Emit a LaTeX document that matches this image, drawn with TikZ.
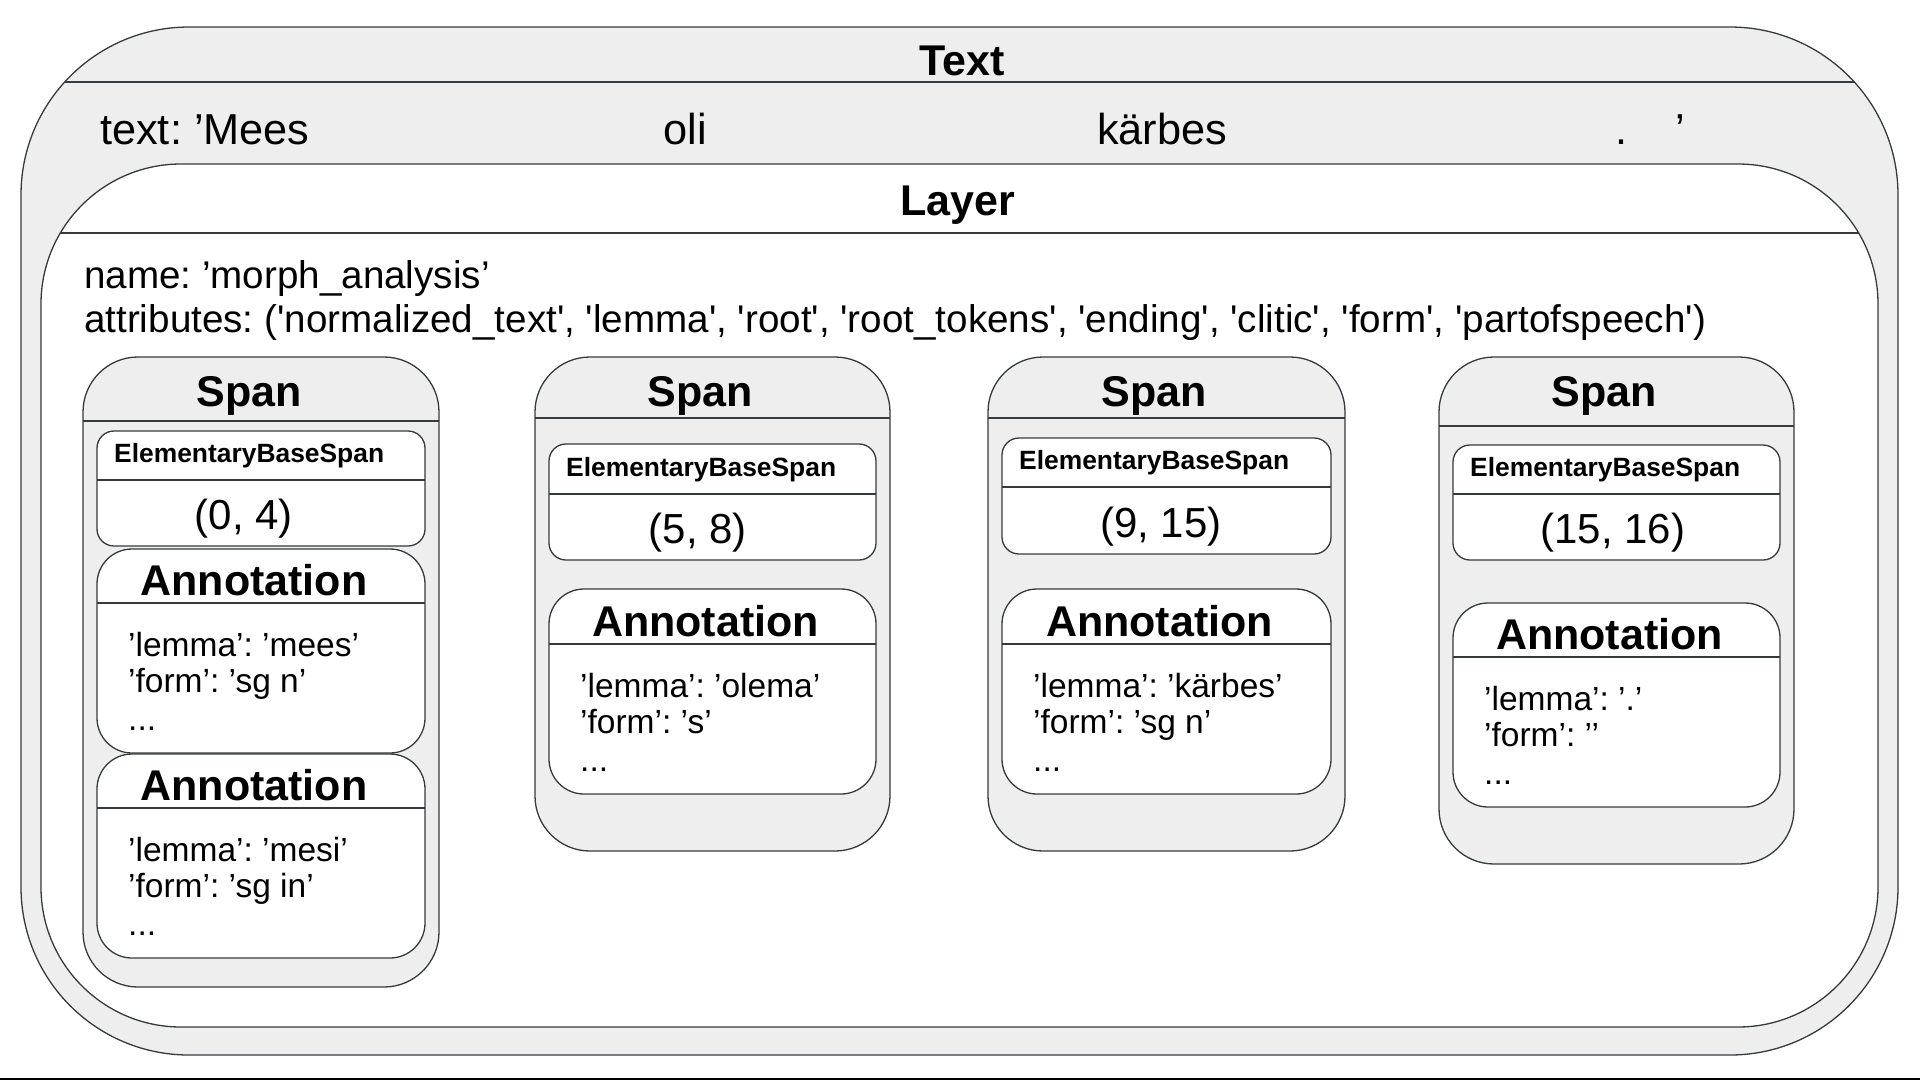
\documentclass[tikz,border=0pt]{standalone}
\usepackage{fontspec}
\setmainfont{Liberation Sans}[Ligatures=TeXOff]
\definecolor{boxgray}{HTML}{EEEEEE}
\definecolor{boxline}{HTML}{36393D}
\frenchspacing
\begin{document}
\begin{tikzpicture}[x=1pt,y=-1pt,
    frame/.style={draw=boxline,line width=1.3pt},
    title/.style={font=\fontsize{43}{50}\selectfont\bfseries,anchor=base,inner sep=0pt},
    plain/.style={font=\fontsize{42}{48}\selectfont,anchor=base,inner sep=0pt},
    word/.style={font=\fontsize{43.3}{50}\selectfont,anchor=base,inner sep=0pt},
    attr/.style={font=\fontsize{38.6}{44}\selectfont,anchor=base west,inner sep=0pt},
    small/.style={font=\fontsize{33.5}{38}\selectfont,anchor=base west,inner sep=0pt},
    ebs/.style={font=\fontsize{26.4}{30}\selectfont\bfseries,anchor=base west,inner sep=0pt}]

    \useasboundingbox (0,0) rectangle (1920,1080);

    % Text
    \draw[frame,fill=boxgray,rounded corners=168] (21,27) rectangle (1898,1055);
    \begin{scope}
        \clip[rounded corners=168] (21,27) rectangle (1898,1055);
        \draw[frame] (21,82) -- (1898,82);
    \end{scope}
    \node[title] (text-title) at (962,75) {Text};
    \node[word,anchor=base west] (text-w1) at (100,144) {text: ’Mees};
    \node[word] (text-w2) at (685,144) {oli};
    \node[word] (text-w3) at (1162,144) {kärbes};
    \node[word] (text-w4) at (1621,144) {.};
    \node[word] (text-w5) at (1680,144) {’};

    % Layer
    \draw[frame,fill=white,rounded corners=140] (41,164) rectangle (1878,1027);
    \begin{scope}
        \clip[rounded corners=140] (41,164) rectangle (1878,1027);
        \draw[frame] (41,233) -- (1878,233);
    \end{scope}
    \node[title] (layer-title) at (958,215) {Layer};
    \node[attr] (layer-name) at (84,288) {name: ’morph\_analysis’};
    \node[attr] (layer-attr) at (84,332) {attributes: ('normalized\_text', 'lemma', 'root', 'root\_tokens', 'ending', 'clitic', 'form', 'partofspeech')};

    % Spans
    \foreach \i/\xa/\xb/\yb/\yh/\ea/\ed/\eb/\vx/\val in {
        1/83/439/987/421/431/480/546/244/{(0, 4)},
        2/535/890/851/418/444/494/560/698/{(5, 8)},
        3/988/1345/851/418/438/487/554/1161/{(9, 15)},
        4/1439/1794/864/426/445/494/560/1613/{(15, 16)}} {
        \draw[frame,fill=boxgray,rounded corners=55] (\xa,357) rectangle (\xb,\yb);
        \draw[frame] (\xa,\yh) -- (\xb,\yh);
        \node[title] (span-\i) at ({(\xa+\xb)/2-12},406) {Span};
        % ElementaryBaseSpan
        \draw[frame,fill=white,rounded corners=17] (\xa+14,\ea) rectangle (\xb-14,\eb);
        \draw[frame] (\xa+14,\ed) -- (\xb-14,\ed);
        \node[ebs] (ebs-\i) at (\xa+31,\ed-18) {ElementaryBaseSpan};
        \node[plain] (val-\i) at (\vx,\eb-17) {\val};
    }

    % Annotations
    \foreach \n/\xa/\xb/\ya/\yh/\yb/\la/\fo in {
        1/97/425/549/603/753/{’lemma’: ’mees’}/{’form’: ’sg n’},
        2/97/425/754/808/958/{’lemma’: ’mesi’}/{’form’: ’sg in’},
        3/549/876/589/644/794/{’lemma’: ’olema’}/{’form’: ’s’},
        4/1002/1331/589/644/794/{’lemma’: ’kärbes’}/{’form’: ’sg n’},
        5/1453/1780/603/657/807/{’lemma’: ’.’}/{’form’: ’’}} {
        \draw[frame,fill=white,rounded corners=35] (\xa,\ya) rectangle (\xb,\yb);
        \draw[frame] (\xa,\yh) -- (\xb,\yh);
        \node[title] (ann-\n) at ({(\xa+\xb)/2-7},\yh-8) {Annotation};
        \node[small] (ann-\n-a) at (\xa+31,\yh+53) {\la};
        \node[small] (ann-\n-b) at (\xa+31,\yh+89) {\fo};
        \node[small] (ann-\n-c) at (\xa+31,\yh+127) {...};
    }

    % Bordo
    \draw[line width=1.2pt] (0,1079) -- (1920,1079);

\end{tikzpicture}
\end{document}
